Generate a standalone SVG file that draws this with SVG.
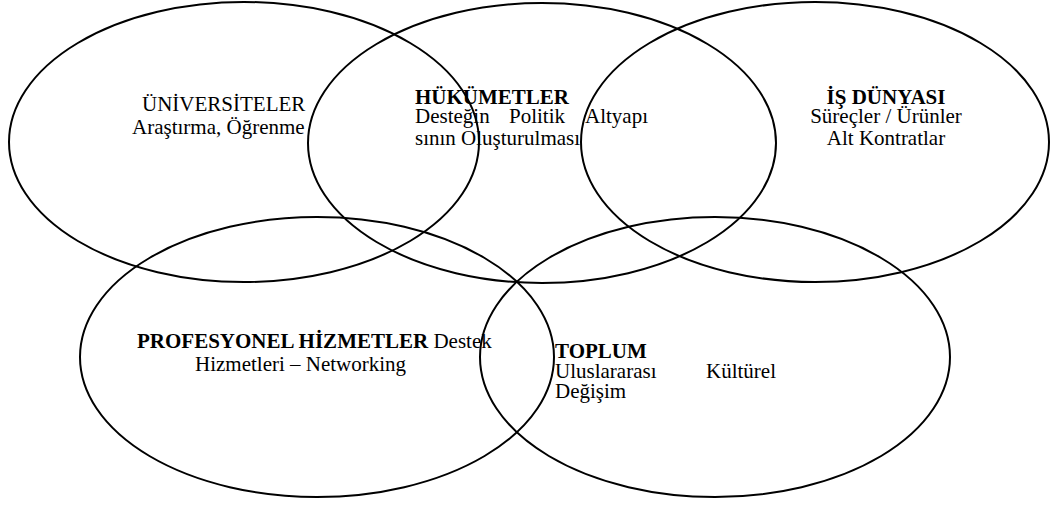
<svg xmlns="http://www.w3.org/2000/svg" width="1050" height="505" viewBox="0 0 1050 505">
  <style>
    .ring { fill: none; stroke: #000; stroke-width: 2; }
    text { font-family: "Liberation Serif", "Times New Roman", serif; font-size: 21px; fill: #000; }
    .b { font-weight: bold; }
  </style>
  <rect width="1050" height="505" fill="#fff"/>
  <g id="universiteler">
    <ellipse class="ring" cx="244" cy="142" rx="235" ry="140"/>
    <text x="142" y="111">ÜNİVERSİTELER</text>
    <text x="132" y="134">Araştırma, Öğrenme</text>
  </g>
  <g id="hukumetler">
    <ellipse class="ring" cx="542" cy="143" rx="234" ry="140"/>
    <text class="b" x="415" y="104">HÜKÜMETLER</text>
    <text x="415" y="123">Desteğin</text>
    <text x="509" y="123">Politik</text>
    <text x="585" y="123">Altyapı</text>
    <text x="415" y="145">sının Oluşturulması</text>
  </g>
  <g id="is-dunyasi">
    <ellipse class="ring" cx="815" cy="142" rx="234" ry="140"/>
    <text class="b" x="886" y="104" text-anchor="middle">İŞ DÜNYASI</text>
    <text x="886" y="123" text-anchor="middle">Süreçler / Ürünler</text>
    <text x="886" y="145" text-anchor="middle">Alt Kontratlar</text>
  </g>
  <g id="profesyonel">
    <ellipse class="ring" cx="317" cy="357" rx="237" ry="140"/>
    <text x="137" y="348"><tspan class="b">PROFESYONEL HİZMETLER</tspan> Destek</text>
    <text x="195" y="371">Hizmetleri – Networking</text>
  </g>
  <g id="toplum">
    <ellipse class="ring" cx="715" cy="357" rx="235" ry="140"/>
    <text class="b" x="555" y="358">TOPLUM</text>
    <text x="555" y="378">Uluslararası</text>
    <text x="776" y="378" text-anchor="end">Kültürel</text>
    <text x="555" y="398">Değişim</text>
  </g>
  <g id="connectors"/>
</svg>
